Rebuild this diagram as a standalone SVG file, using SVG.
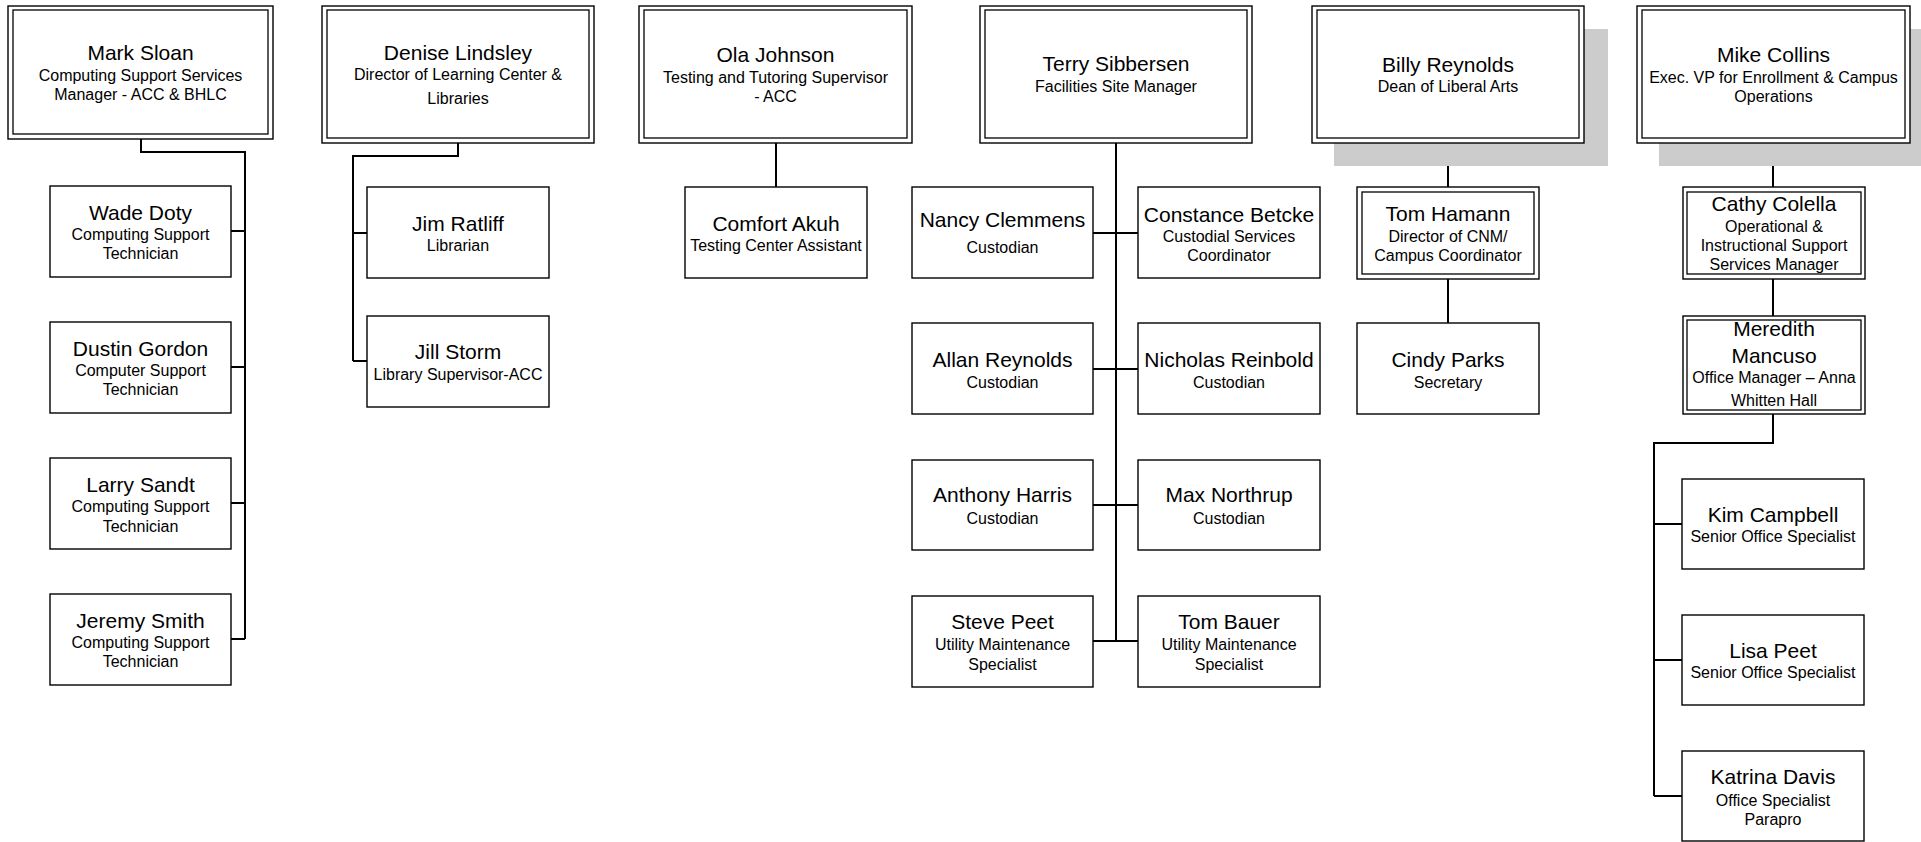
<svg xmlns="http://www.w3.org/2000/svg" width="1921" height="842" viewBox="0 0 1921 842">
<style>
.bx{fill:#fff;stroke:#000;stroke-width:1.4}
.dbl{fill:none;stroke:#000;stroke-width:1.3}
.sh{fill:#cccccc;stroke:none}
.cn{fill:none;stroke:#000;stroke-width:2}
text{font-family:"Liberation Sans",Arial,sans-serif;fill:#000;text-anchor:middle}
.n{font-size:21px}
.t{font-size:16px}
</style>
<rect width="1921" height="842" fill="#fff"/>
<g id="connectors">
<path class="cn" d="M141,139 V152 H245 V639 M231,231 H245 M231,367 H245 M231,503 H245 M231,639 H245"/>
<path class="cn" d="M458,143 V156 H353 V361 M353,233 H367 M353,361 H367"/>
<path class="cn" d="M776,143 V187"/>
<path class="cn" d="M1116,143 V641 M1093,233 H1138 M1093,369 H1138 M1093,505 H1138 M1093,641 H1138"/>
<path class="cn" d="M1448,143 V187 M1448,279 V323"/>
<path class="cn" d="M1773,143 V187 M1773,279 V316 M1773,414 V443 H1654 V796 M1654,524 H1682 M1654,660 H1682 M1654,796 H1682"/>
</g>
<g id="mark-sloan">
<rect class="bx" x="8" y="6" width="265" height="133"/><rect class="dbl" x="13" y="10" width="255" height="124"/>
<text class="n" x="140.5" y="60">Mark Sloan</text>
<text class="t" x="140.5" y="81">Computing Support Services</text>
<text class="t" x="140.5" y="100">Manager - ACC &amp; BHLC</text>
</g>
<g id="denise-lindsley">
<rect class="bx" x="322" y="6" width="272" height="137"/><rect class="dbl" x="327" y="10" width="262" height="128"/>
<text class="n" x="458" y="60">Denise Lindsley</text>
<text class="t" x="458" y="80">Director of Learning Center &amp;</text>
<text class="t" x="458" y="104">Libraries</text>
</g>
<g id="ola-johnson">
<rect class="bx" x="639" y="6" width="273" height="137"/><rect class="dbl" x="644" y="10" width="263" height="128"/>
<text class="n" x="775.5" y="62">Ola Johnson</text>
<text class="t" x="775.5" y="83">Testing and Tutoring Supervisor</text>
<text class="t" x="775.5" y="102">- ACC</text>
</g>
<g id="terry-sibbersen">
<rect class="bx" x="980" y="6" width="272" height="137"/><rect class="dbl" x="985" y="10" width="262" height="128"/>
<text class="n" x="1116" y="71">Terry Sibbersen</text>
<text class="t" x="1116" y="92">Facilities Site Manager</text>
</g>
<g id="billy-reynolds">
<rect class="sh" x="1334" y="29" width="274" height="137"/>
<rect class="bx" x="1312" y="6" width="272" height="137"/><rect class="dbl" x="1317" y="10" width="262" height="128"/>
<text class="n" x="1448" y="72">Billy Reynolds</text>
<text class="t" x="1448" y="92">Dean of Liberal Arts</text>
</g>
<g id="mike-collins">
<rect class="sh" x="1659" y="29" width="274" height="137"/>
<rect class="bx" x="1637" y="6" width="273" height="137"/><rect class="dbl" x="1642" y="10" width="263" height="128"/>
<text class="n" x="1773.5" y="62">Mike Collins</text>
<text class="t" x="1773.5" y="83">Exec. VP for Enrollment &amp; Campus</text>
<text class="t" x="1773.5" y="102">Operations</text>
</g>
<g id="wade-doty">
<rect class="bx" x="50" y="186" width="181" height="91"/>
<text class="n" x="140.5" y="220">Wade Doty</text>
<text class="t" x="140.5" y="240">Computing Support</text>
<text class="t" x="140.5" y="259">Technician</text>
</g>
<g id="dustin-gordon">
<rect class="bx" x="50" y="322" width="181" height="91"/>
<text class="n" x="140.5" y="356">Dustin Gordon</text>
<text class="t" x="140.5" y="376">Computer Support</text>
<text class="t" x="140.5" y="395">Technician</text>
</g>
<g id="larry-sandt">
<rect class="bx" x="50" y="458" width="181" height="91"/>
<text class="n" x="140.5" y="492">Larry Sandt</text>
<text class="t" x="140.5" y="512">Computing Support</text>
<text class="t" x="140.5" y="532">Technician</text>
</g>
<g id="jeremy-smith">
<rect class="bx" x="50" y="594" width="181" height="91"/>
<text class="n" x="140.5" y="628">Jeremy Smith</text>
<text class="t" x="140.5" y="648">Computing Support</text>
<text class="t" x="140.5" y="667">Technician</text>
</g>
<g id="jim-ratliff">
<rect class="bx" x="367" y="187" width="182" height="91"/>
<text class="n" x="458" y="231">Jim Ratliff</text>
<text class="t" x="458" y="251">Librarian</text>
</g>
<g id="jill-storm">
<rect class="bx" x="367" y="316" width="182" height="91"/>
<text class="n" x="458" y="359">Jill Storm</text>
<text class="t" x="458" y="380">Library Supervisor-ACC</text>
</g>
<g id="comfort-akuh">
<rect class="bx" x="685" y="187" width="182" height="91"/>
<text class="n" x="776" y="231">Comfort Akuh</text>
<text class="t" x="776" y="251">Testing Center Assistant</text>
</g>
<g id="nancy-clemmens">
<rect class="bx" x="912" y="187" width="181" height="91"/>
<text class="n" x="1002.5" y="227">Nancy Clemmens</text>
<text class="t" x="1002.5" y="253">Custodian</text>
</g>
<g id="constance-betcke">
<rect class="bx" x="1138" y="187" width="182" height="91"/>
<text class="n" x="1229" y="222">Constance Betcke</text>
<text class="t" x="1229" y="242">Custodial Services</text>
<text class="t" x="1229" y="261">Coordinator</text>
</g>
<g id="allan-reynolds">
<rect class="bx" x="912" y="323" width="181" height="91"/>
<text class="n" x="1002.5" y="367">Allan Reynolds</text>
<text class="t" x="1002.5" y="388">Custodian</text>
</g>
<g id="nicholas-reinbold">
<rect class="bx" x="1138" y="323" width="182" height="91"/>
<text class="n" x="1229" y="367">Nicholas Reinbold</text>
<text class="t" x="1229" y="388">Custodian</text>
</g>
<g id="anthony-harris">
<rect class="bx" x="912" y="460" width="181" height="90"/>
<text class="n" x="1002.5" y="502">Anthony Harris</text>
<text class="t" x="1002.5" y="524">Custodian</text>
</g>
<g id="max-northrup">
<rect class="bx" x="1138" y="460" width="182" height="90"/>
<text class="n" x="1229" y="502">Max Northrup</text>
<text class="t" x="1229" y="524">Custodian</text>
</g>
<g id="steve-peet">
<rect class="bx" x="912" y="596" width="181" height="91"/>
<text class="n" x="1002.5" y="629">Steve Peet</text>
<text class="t" x="1002.5" y="650">Utility Maintenance</text>
<text class="t" x="1002.5" y="670">Specialist</text>
</g>
<g id="tom-bauer">
<rect class="bx" x="1138" y="596" width="182" height="91"/>
<text class="n" x="1229" y="629">Tom Bauer</text>
<text class="t" x="1229" y="650">Utility Maintenance</text>
<text class="t" x="1229" y="670">Specialist</text>
</g>
<g id="tom-hamann">
<rect class="bx" x="1357" y="187" width="182" height="92"/><rect class="dbl" x="1362" y="192" width="172" height="82"/>
<text class="n" x="1448" y="221">Tom Hamann</text>
<text class="t" x="1448" y="242">Director of CNM/</text>
<text class="t" x="1448" y="261">Campus Coordinator</text>
</g>
<g id="cindy-parks">
<rect class="bx" x="1357" y="323" width="182" height="91"/>
<text class="n" x="1448" y="367">Cindy Parks</text>
<text class="t" x="1448" y="388">Secretary</text>
</g>
<g id="cathy-colella">
<rect class="bx" x="1683" y="187" width="182" height="92"/><rect class="dbl" x="1687" y="192" width="174" height="82"/>
<text class="n" x="1774" y="211">Cathy Colella</text>
<text class="t" x="1774" y="232">Operational &amp;</text>
<text class="t" x="1774" y="251">Instructional Support</text>
<text class="t" x="1774" y="270">Services Manager</text>
</g>
<g id="meredith-mancuso">
<rect class="bx" x="1683" y="316" width="182" height="98"/><rect class="dbl" x="1687" y="320" width="174" height="90"/>
<text class="n" x="1774" y="336">Meredith</text>
<text class="n" x="1774" y="363">Mancuso</text>
<text class="t" x="1774" y="383">Office Manager – Anna</text>
<text class="t" x="1774" y="406">Whitten Hall</text>
</g>
<g id="kim-campbell">
<rect class="bx" x="1682" y="479" width="182" height="90"/>
<text class="n" x="1773" y="522">Kim Campbell</text>
<text class="t" x="1773" y="542">Senior Office Specialist</text>
</g>
<g id="lisa-peet">
<rect class="bx" x="1682" y="615" width="182" height="90"/>
<text class="n" x="1773" y="658">Lisa Peet</text>
<text class="t" x="1773" y="678">Senior Office Specialist</text>
</g>
<g id="katrina-davis">
<rect class="bx" x="1682" y="751" width="182" height="90"/>
<text class="n" x="1773" y="784">Katrina Davis</text>
<text class="t" x="1773" y="806">Office Specialist</text>
<text class="t" x="1773" y="825">Parapro</text>
</g>
</svg>
